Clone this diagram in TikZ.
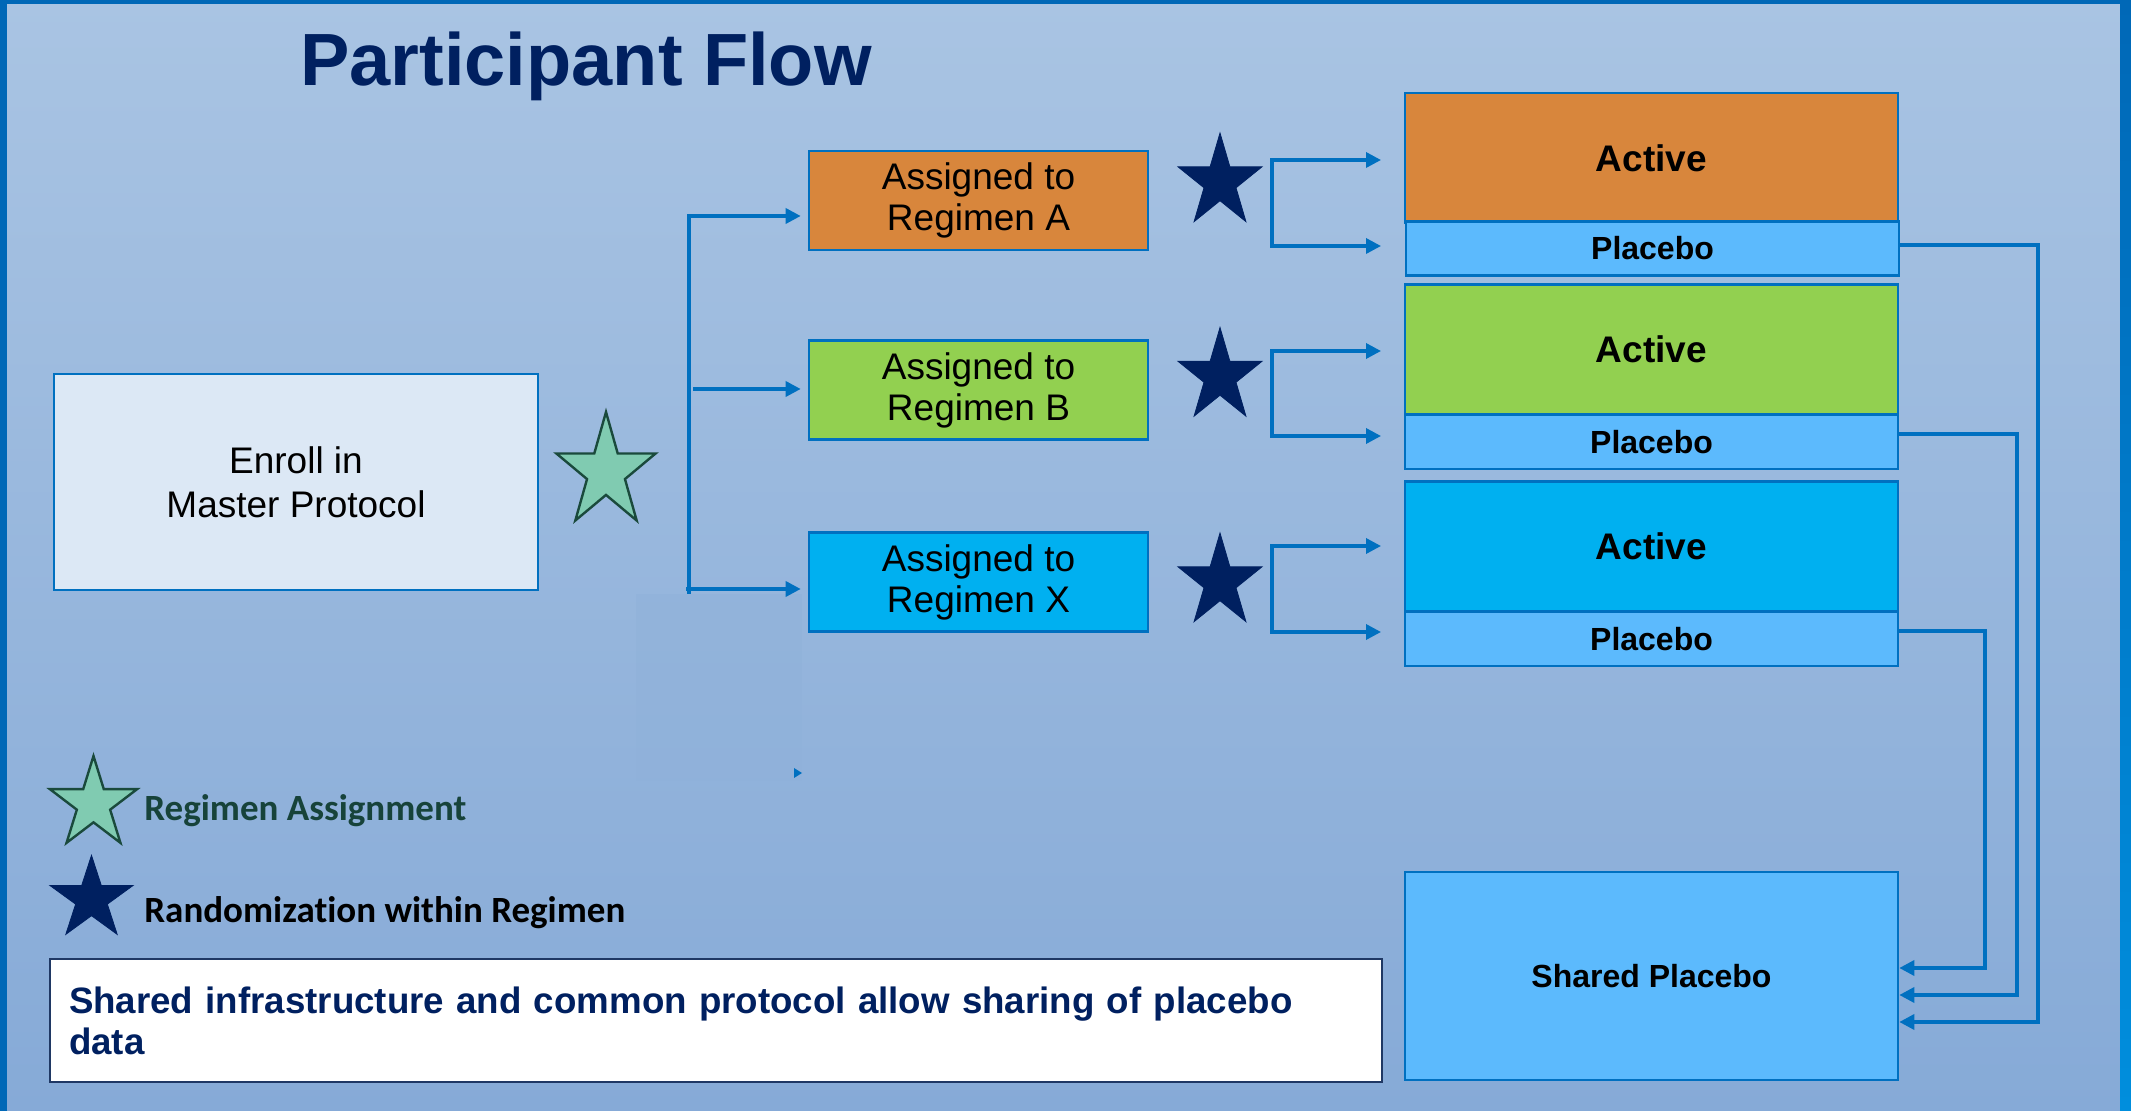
\documentclass[tikz,border=0pt]{standalone}
\usepackage{fontspec}
\setmainfont{Liberation Sans}
\newfontfamily\calfont[Ligatures=NoCommon]{Carlito}
\usetikzlibrary{shapes.geometric,arrows.meta,calc}
\definecolor{bgtop}{HTML}{A9C4E3}
\definecolor{bgbot}{HTML}{86AAD7}
\definecolor{frameblue}{HTML}{0068B7}
\definecolor{framebot}{HTML}{008EDD}
\definecolor{lineblue}{HTML}{0070C0}
\definecolor{navy}{HTML}{002060}
\definecolor{notebord}{HTML}{1F3864}
\definecolor{enrollfill}{HTML}{DCE8F5}
\definecolor{orangeA}{HTML}{D8863C}
\definecolor{greenB}{HTML}{92D050}
\definecolor{cyanX}{HTML}{00B0F0}
\definecolor{placebofill}{HTML}{5CBAFD}
\definecolor{starfill}{HTML}{80CBB1}
\definecolor{stardraw}{HTML}{1A4A3C}
\definecolor{legendgreen}{HTML}{17433A}
\definecolor{faintrect}{HTML}{8FB1D9}
% five-pointed star: centre x, centre y, outer radius, horizontal squeeze, style
\newcommand\drawfivestar[5]{%
  \path[#5, shift={(#1,#2)}, xscale=#3*#4, yscale=-#3]
    (90:1) \foreach \i in {1,...,9}{ -- ({90+36*\i}:{mod(\i,2)==0 ? 1 : 0.382}) } -- cycle;}
\begin{document}
\begin{tikzpicture}[x=0.5pt,y=-0.5pt,
  box/.style={draw=lineblue, line width=1.3pt, inner sep=0pt, align=center},
  regbox/.style={box, minimum width=169.5pt, minimum height=49.5pt,
    font=\fontsize{18.5}{20.5}\selectfont},
  actbox/.style={box, minimum width=246.5pt, minimum height=65pt,
    font=\bfseries\fontsize{18.5}{22}\selectfont},
  plabox/.style={box, fill=placebofill, minimum width=246.5pt, minimum height=27pt,
    font=\bfseries\fontsize{16}{19}\selectfont},
  conn/.style={draw=lineblue, line width=1.7pt, -{Triangle[length=7.5pt,width=7.5pt]}},
  bracket/.style={draw=lineblue, line width=1.7pt,
    {Triangle[length=7.5pt,width=7.5pt]}-{Triangle[length=7.5pt,width=7.5pt]}},
  lightstar/.style={fill=starfill, draw=stardraw, line width=1.2pt, line join=miter},
  darkstar/.style={fill=navy, draw=navy, line width=0.4pt}
]
\useasboundingbox (0,0) rectangle (2131,1111);
% background and frame
\shade[top color=bgtop, bottom color=bgbot] (0,0) rectangle (2131,1111);
\fill[frameblue] (0,0) rectangle (7,1111);
\fill[frameblue] (0,0) rectangle (2131,4);
\shade[top color=frameblue, bottom color=framebot] (2120,0) rectangle (2131,1111);
\fill[faintrect, opacity=0.45] (636,594) rectangle (802,781);
\fill[lineblue] (794,768) -- (802,773) -- (794,778) -- cycle;

% title
\node[anchor=base, text=navy, font=\bfseries\fontsize{37}{40}\selectfont] (title) at (586,86) {Participant Flow};

% enroll
\node[box, fill=enrollfill, minimum width=242pt, minimum height=108pt,
  font=\fontsize{18.5}{22}\selectfont] (enroll) at (296,482) {Enroll in\\Master Protocol};
\drawfivestar{606}{472}{60}{0.87}{lightstar}

% regimen boxes
\node[regbox, fill=orangeA] (regA) at (978.5,200.5) {Assigned to\\Regimen A};
\node[regbox, fill=greenB] (regB) at (978.5,390) {Assigned to\\Regimen B};
\node[regbox, fill=cyanX] (regX) at (978.5,582) {Assigned to\\Regimen X};

% branching
\coordinate (vtop) at (689,216);
\coordinate (vbot) at (689,594);
\coordinate (vmid) at (693,389);
\coordinate (vlow) at (686,589);
\draw[conn, shorten >=3.5pt] (vbot) -- (vtop) -- (regA.west |- vtop);
\draw[conn, shorten >=3.5pt] (vmid) -- (regB.west |- vmid);
\draw[conn, shorten >=3.5pt] (vlow) -- (regX.west |- vlow);

% randomization stars
\drawfivestar{1220}{182}{49}{0.9}{darkstar}
\drawfivestar{1220}{376.5}{49}{0.9}{darkstar}
\drawfivestar{1220}{582}{49}{0.9}{darkstar}

% active / placebo
\node[actbox, fill=orangeA] (actA) at (1651.5,158) {Active};
\node[plabox] (plaA) at (1652.5,248.5) {Placebo};
\node[actbox, fill=greenB] (actB) at (1651.5,349.5) {Active};
\node[plabox] (plaB) at (1651.5,442) {Placebo};
\node[actbox, fill=cyanX] (actX) at (1651.5,546.5) {Active};
\node[plabox] (plaX) at (1651.5,639) {Placebo};

% brackets
\coordinate (tA1) at (1381,160);
\coordinate (tA2) at (1381,246);
\coordinate (tB1) at (1381,351);
\coordinate (tB2) at (1381,436);
\coordinate (tX1) at (1381,546);
\coordinate (tX2) at (1381,632);
\draw[bracket] (tA1) -| (1272,200) |- (tA2);
\draw[bracket] (tB1) -| (1272,400) |- (tB2);
\draw[bracket] (tX1) -| (1272,590) |- (tX2);

% shared placebo
\node[box, fill=placebofill, minimum width=246.5pt, minimum height=104pt,
  font=\bfseries\fontsize{16}{19}\selectfont] (shared) at (1651.5,976) {Shared Placebo};

\coordinate (cA) at (2038,1022);
\coordinate (cB) at (2017,995);
\coordinate (cX) at (1985,968);
\draw[conn] (plaA.east |- 0,245) -| (cA) -- (shared.east |- cA);
\draw[conn] (plaB.east |- 0,434) -| (cB) -- (shared.east |- cB);
\draw[conn] (plaX.east |- 0,631) -| (cX) -- (shared.east |- cX);

% legend
\drawfivestar{93.5}{804}{48}{0.955}{lightstar}
\node[anchor=base west, inner sep=0pt, text=legendgreen, font=\calfont\bfseries\fontsize{18.5}{22}\selectfont] (lgtext) at (144,820) {Regimen Assignment};
\drawfivestar{91.5}{899}{43.7}{1.0}{darkstar}
\node[anchor=base west, inner sep=0pt, text=black, font=\calfont\bfseries\fontsize{18.5}{22}\selectfont] (ldtext) at (144,922) {Randomization within Regimen};

% note box
\node[draw=notebord, fill=white, line width=1pt, minimum width=666pt, minimum height=61.5pt,
  inner xsep=9.5pt, inner ysep=0pt, text width=647pt, align=left, text=navy,
  font=\bfseries\fontsize{18.35}{20.5}\selectfont] (note) at (716,1020.5)
  {Shared infrastructure and common protocol allow sharing of placebo\\data};
\end{tikzpicture}
\end{document}
